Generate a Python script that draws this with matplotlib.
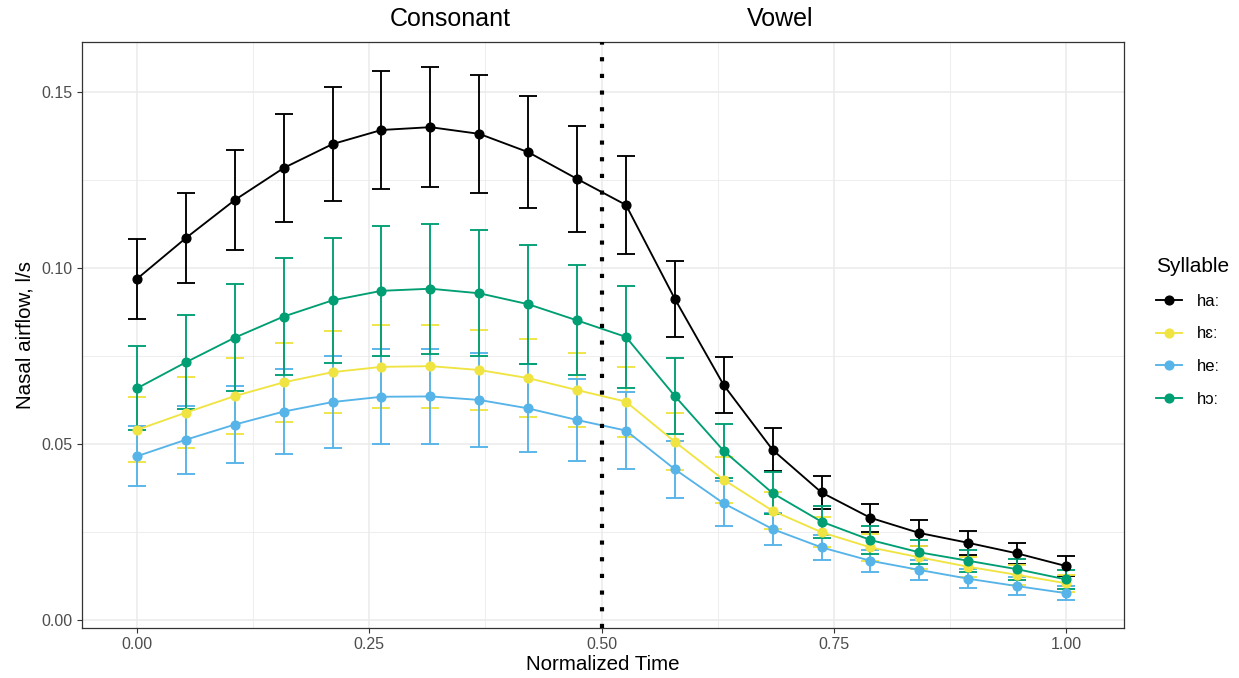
import matplotlib
matplotlib.use('Agg')
import matplotlib.pyplot as plt
import numpy as np
from matplotlib.lines import Line2D
from matplotlib.ticker import MultipleLocator

plt.rcParams['font.family'] = ['Liberation Sans', 'DejaVu Sans']

# normalized time: 20 equally spaced samples
time = np.linspace(0, 1, 20)

syllables = ['haː', 'hɛː', 'heː', 'hɔː']
colors = ['#000000', '#F0E442', '#56B4E9', '#009E73']

mean_ha = [0.0970, 0.1086, 0.1194, 0.1285, 0.1353, 0.1393, 0.1401, 0.1382, 0.1330, 0.1254,
           0.1180, 0.0913, 0.0668, 0.0484, 0.0363, 0.0291, 0.0248, 0.0220, 0.0190, 0.0154]
se_ha = [0.0114, 0.0128, 0.0141, 0.0154, 0.0163, 0.0169, 0.0170, 0.0168, 0.0160, 0.0150,
         0.0139, 0.0107, 0.0080, 0.0061, 0.0048, 0.0040, 0.0037, 0.0034, 0.0030, 0.0028]

mean_he_open = [0.0541, 0.0590, 0.0637, 0.0676, 0.0705, 0.0720, 0.0722, 0.0711, 0.0688, 0.0654,
                0.0621, 0.0507, 0.0399, 0.0311, 0.0250, 0.0207, 0.0179, 0.0152, 0.0129, 0.0105]
se_he_open = [0.0092, 0.0100, 0.0107, 0.0113, 0.0117, 0.0118, 0.0118, 0.0114, 0.0110, 0.0105,
              0.0099, 0.0081, 0.0065, 0.0053, 0.0043, 0.0038, 0.0032, 0.0029, 0.0028, 0.0024]

mean_he = [0.0466, 0.0513, 0.0556, 0.0593, 0.0620, 0.0635, 0.0636, 0.0626, 0.0602, 0.0569,
           0.0539, 0.0429, 0.0332, 0.0259, 0.0207, 0.0169, 0.0143, 0.0118, 0.0097, 0.0077]
se_he = [0.0085, 0.0097, 0.0110, 0.0122, 0.0130, 0.0135, 0.0136, 0.0134, 0.0125, 0.0116,
         0.0109, 0.0081, 0.0064, 0.0046, 0.0036, 0.0031, 0.0028, 0.0027, 0.0025, 0.0020]

mean_ho = [0.0659, 0.0733, 0.0803, 0.0863, 0.0909, 0.0936, 0.0942, 0.0929, 0.0898, 0.0852,
           0.0805, 0.0637, 0.0481, 0.0361, 0.0280, 0.0228, 0.0193, 0.0169, 0.0145, 0.0116]
se_ho = [0.0119, 0.0134, 0.0151, 0.0167, 0.0178, 0.0184, 0.0185, 0.0179, 0.0169, 0.0156,
         0.0144, 0.0107, 0.0077, 0.0059, 0.0045, 0.0039, 0.0034, 0.0032, 0.0030, 0.0028]

means = [mean_ha, mean_he_open, mean_he, mean_ho]
ses = [se_ha, se_he_open, se_he, se_ho]

fig = plt.figure(figsize=(12.39, 6.78), dpi=100)
ax = fig.add_axes([82 / 1239, 1 - 628 / 678, (1124 - 82) / 1239, (628 - 42) / 678])

for m, s, c in zip(means, ses, colors):
    ax.errorbar(time, m, yerr=s, fmt='none', ecolor=c, elinewidth=1.35,
                capsize=6.7, capthick=1.35, zorder=2)
for m, c in zip(means, colors):
    ax.plot(time, m, color=c, lw=1.35, zorder=3)
    ax.plot(time, m, 'o', color=c, ms=6.3, zorder=4)

ax.axvline(0.5, color='black', lw=3, dashes=(1, 3), dash_capstyle='butt', zorder=5)

ax.set_xlim(-0.0592, 1.0624)
ax.set_ylim(-0.0022, 0.1643)
ax.xaxis.set_major_locator(MultipleLocator(0.25))
ax.xaxis.set_minor_locator(MultipleLocator(0.125))
ax.yaxis.set_major_locator(MultipleLocator(0.05))
ax.yaxis.set_minor_locator(MultipleLocator(0.025))
ax.xaxis.set_major_formatter(plt.FuncFormatter(lambda v, p: '%.2f' % v))
ax.yaxis.set_major_formatter(plt.FuncFormatter(lambda v, p: '%.2f' % v))
ax.grid(which='major', color='#EBEBEB', lw=1.1, zorder=0)
ax.grid(which='minor', color='#EBEBEB', lw=0.6, zorder=0)
ax.set_axisbelow(True)
ax.tick_params(which='major', length=3.5, width=0.8, color='#333333',
               labelsize=11.5, labelcolor='#4D4D4D', pad=3)
ax.tick_params(which='minor', length=0)
for sp in ax.spines.values():
    sp.set_color('#333333')
    sp.set_linewidth(0.9)

ax.set_xlabel('Normalized Time', fontsize=14.8, labelpad=2)
ax.set_ylabel('Nasal airflow, l/s', fontsize=14.8, labelpad=5)

ax.text(0.337, 1.018, 'Consonant', transform=ax.get_xaxis_transform(),
        ha='center', va='bottom', fontsize=18)
ax.text(0.692, 1.018, 'Vowel', transform=ax.get_xaxis_transform(),
        ha='center', va='bottom', fontsize=18)

handles = [Line2D([], [], color=c, lw=1.35, marker='o', ms=6.3) for c in colors]
leg = fig.legend(handles, syllables, title='Syllable', loc='center left',
                 bbox_to_anchor=(1141 / 1239, 1 - 332 / 678), frameon=False,
                 fontsize=12, title_fontsize=15, handlelength=1.56,
                 labelspacing=1.05, handletextpad=0.9, borderpad=0.4)
leg._legend_box.align = 'left'

fig.savefig('out.png', dpi=100)
